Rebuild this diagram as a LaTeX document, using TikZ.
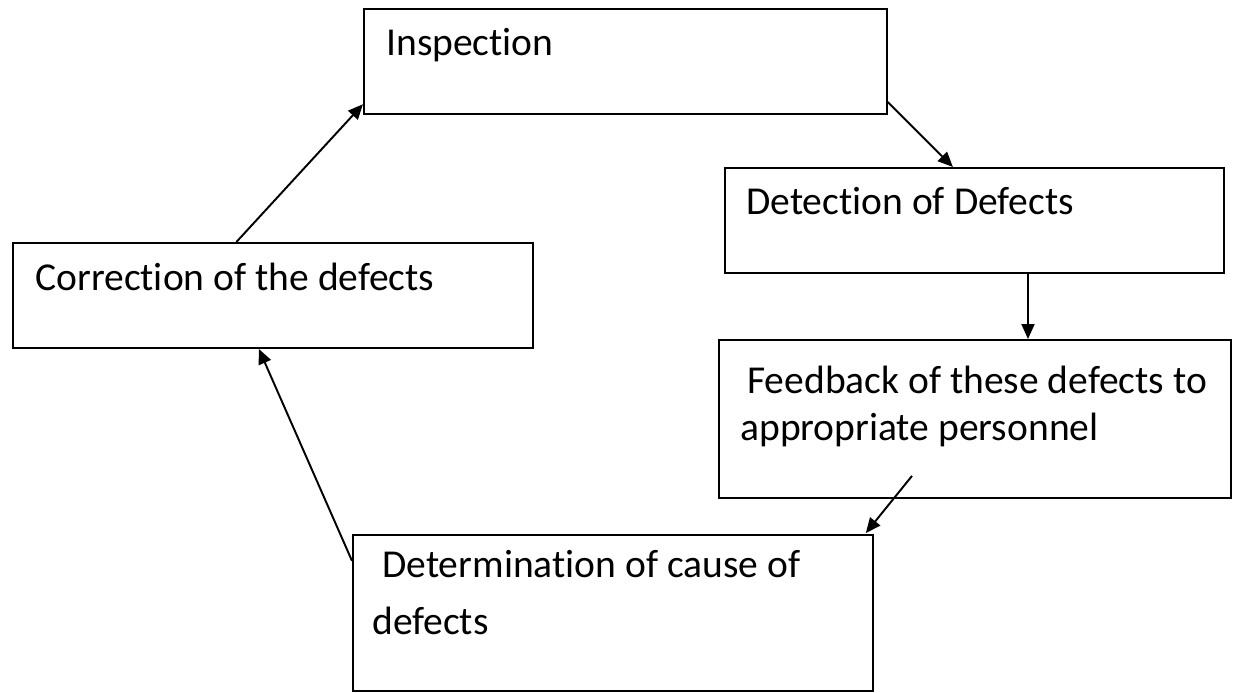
\documentclass[tikz,border=0pt]{standalone}
\usepackage{fontspec}
\setmainfont{Carlito}[Ligatures=NoCommon]
\usetikzlibrary{calc,arrows.meta}

\begin{document}
\begin{tikzpicture}[x=0.02cm,y=-0.02cm,
    box/.style={draw, line width=1.1pt, inner sep=0pt, anchor=north west},
    txt/.style={font=\fontsize{22.5}{27}\selectfont, inner sep=0pt, anchor=base west, align=left},
    arr/.style={line width=1.1pt, -{Triangle[length=0.3cm,width=0.26cm]}}]
  \useasboundingbox (0,0) rectangle (1241,693);

  % boxes
  \node[box, minimum width=10.46cm, minimum height=2.1cm] (insp) at (363,8) {};
  \node[box, minimum width=9.98cm, minimum height=2.1cm] (detect) at (724,167) {};
  \node[box, minimum width=10.4cm, minimum height=2.1cm] (corr) at (12,242) {};
  \node[box, minimum width=10.24cm, minimum height=3.16cm] (feed) at (718,339) {};
  \node[box, minimum width=10.4cm, minimum height=3.12cm] (cause) at (352,534) {};

  % texts (base = last line)
  \node[txt] (inspT) at (386,55) {Inspection};
  \node[txt] (detectT) at (746,214) {Detection of Defects};
  \node[txt] (corrT) at (35,290) {Correction of the defects};
  \node[txt, font=\fontsize{22.5}{26.2}\selectfont] (feedT) at (740,440)
    {\hspace*{0.14cm}Feedback of these defects to\\appropriate personnel};
  \node[txt, font=\fontsize{22.5}{31.9}\selectfont] (causeT) at (372,634)
    {\hspace*{0.2cm}Determination of cause of\\defects};

  % arrows
  \draw[arr] ($(corr.north west)!0.43!(corr.north east)$) -- ($(insp.north west)!0.9!(insp.south west)$);
  \draw[arr] ($(insp.north east)!0.88!(insp.south east)$) -- ($(detect.north west)!0.457!(detect.north east)$);
  \draw[arr] ($(detect.south west)!0.607!(detect.south east)$) coordinate (d) -- (d |- feed.north);
  \draw[arr] ($(feed.south west)+(194,-23)$) -- ($(cause.north east)+(-8,-1)$);
  \draw[arr] ($(cause.north west)!0.17!(cause.south west)$) -- ($(corr.south west)!0.473!(corr.south east)$);
\end{tikzpicture}
\end{document}
